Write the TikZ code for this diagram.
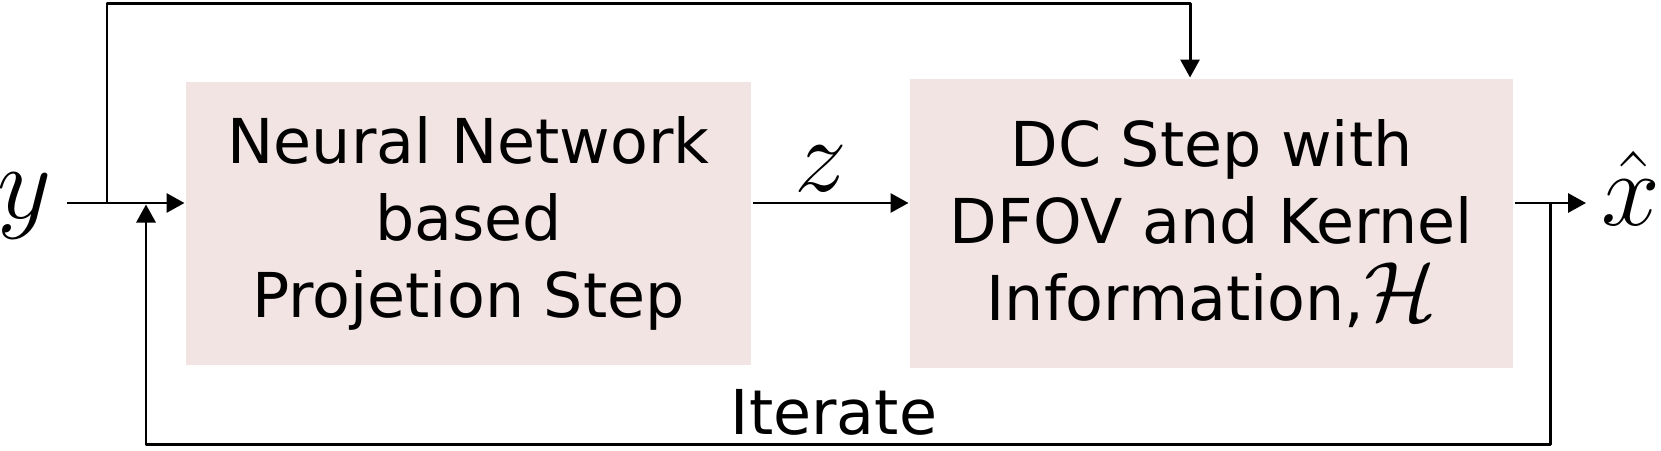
\RequirePackage{fix-cm}
\documentclass[tikz,border=0pt]{standalone}
\usepackage{fontspec}
\setmainfont{DejaVu Sans}
\usetikzlibrary{arrows.meta}
\definecolor{blockpink}{RGB}{242,228,227}
\tikzset{
  block/.style={fill=blockpink, align=center, inner sep=0pt},
  sig/.style={font=\fontsize{30pt}{30pt}\selectfont, inner sep=0.14cm}
}

\begin{document}
\begin{tikzpicture}[font=\fontsize{17.6pt}{22pt}\selectfont, line width=0.85pt, line join=round, >={Triangle[length=0.18cm,width=0.19cm]}]
    \useasboundingbox (0,0) rectangle (16.61,4.5);
    \node[block, minimum width=5.65cm, minimum height=2.83cm] (nn) at (4.685,2.265) {Neural Network\\based\\Projetion Step};
    \node[block, minimum width=6.03cm, minimum height=2.89cm] (dc) at (12.115,2.265) {DC Step with\\DFOV and Kernel\\Information,{\fontsize{24pt}{22pt}\selectfont$\mathcal{H}$}};
    \node[sig, anchor=base east] (yin) at (0.67,2.32) {$y$};
    \node[sig, anchor=base west] (xhat) at (15.86,2.25) {$\hat{x}$};
    \coordinate (split) at (1.07,2.47);
    \coordinate (ytop) at (1.07,4.465);
    \coordinate (branch) at (15.50,2.47);
    \coordinate (fbin) at (1.46,2.455);
    \coordinate (bottom) at (0,0.055);
    \draw[->] (yin.east |- split) -- (nn.west |- split);
    \draw[->] (split) -- (ytop) -| ([xshift=-0.215cm]dc.north);
    \draw[->] (nn.east |- split) -- node[sig, above, pos=0.44, inner sep=0.1cm] {$z$} (dc.west |- split);
    \draw[->] (dc.east |- split) -- (xhat.west |- split);
    \draw[->] (branch) -- (branch |- bottom) -- node[above, pos=0.51, inner sep=0.08cm] {Iterate} (fbin |- bottom) -- (fbin);
\end{tikzpicture}
\end{document}
